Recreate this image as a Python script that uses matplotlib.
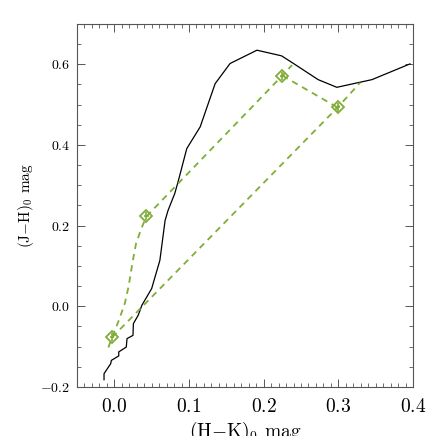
import matplotlib
matplotlib.use("Agg")
import matplotlib.pyplot as plt
from matplotlib.ticker import MultipleLocator

plt.rcParams['font.family'] = ['cmr10', 'DejaVu Serif']
plt.rcParams['axes.formatter.use_mathtext'] = True
plt.rcParams['mathtext.fontset'] = 'cm'

# intrinsic colour locus (black)
locus_hk = [-0.0138, -0.0138, -0.0048, -0.0040, 0.0059, 0.0059, 0.0160, 0.0170,
            0.0250, 0.0255, 0.0320, 0.0370, 0.0500, 0.0610, 0.0680, 0.0720,
            0.0810, 0.0860, 0.0970, 0.1150, 0.1350, 0.1550, 0.1910, 0.2240,
            0.2400, 0.2730, 0.2980, 0.3450, 0.3960]
locus_jh = [-0.182, -0.167, -0.142, -0.134, -0.123, -0.113, -0.101, -0.080,
            -0.072, -0.043, -0.022, 0.003, 0.044, 0.114, 0.213, 0.238,
            0.280, 0.313, 0.391, 0.445, 0.552, 0.602, 0.635, 0.621,
            0.602, 0.562, 0.543, 0.562, 0.601]

# green curve (lower-left branch)
curve_hk = [-0.008, -0.003, 0.006, 0.014, 0.019, 0.024, 0.029, 0.036, 0.043]
curve_jh = [-0.102, -0.077, -0.035, 0.007, 0.048, 0.105, 0.155, 0.192, 0.223]

# reddening lines
red1_hk = [0.043, 0.225, 0.238]
red1_jh = [0.223, 0.572, 0.598]
red2_hk = [-0.003, 0.299, 0.329]
red2_jh = [-0.077, 0.493, 0.554]
link_hk = [0.225, 0.299]
link_jh = [0.572, 0.493]

# marked points
pts_hk = [-0.003, 0.043, 0.225, 0.299]
pts_jh = [-0.077, 0.223, 0.572, 0.493]
pts_hk_err = [0.003, 0.003, 0.003, 0.003]
pts_jh_err = [0.010, 0.010, 0.010, 0.010]

green = '#80ad38'
dash = (0, (3.5, 2.8))

fig = plt.figure(figsize=(4.36, 4.36), dpi=100)
ax = fig.add_axes([0.1766, 0.1124, 0.7706, 0.8326])

ax.plot(locus_hk, locus_jh, color='black', lw=0.9)
for xs, ys in [(curve_hk, curve_jh), (red1_hk, red1_jh),
               (red2_hk, red2_jh), (link_hk, link_jh)]:
    ax.plot(xs, ys, color=green, lw=1.3, linestyle=dash)
ax.errorbar(pts_hk, pts_jh, xerr=pts_hk_err, yerr=pts_jh_err, fmt='D',
            ms=6, mfc='none', mec=green, mew=1.3, ecolor=green,
            elinewidth=1.2, capsize=0)

ax.set_xlim(-0.05, 0.4)
ax.set_ylim(-0.2, 0.7)
ax.xaxis.set_major_locator(MultipleLocator(0.1))
ax.xaxis.set_minor_locator(MultipleLocator(0.01))
ax.yaxis.set_major_locator(MultipleLocator(0.2))
ax.yaxis.set_minor_locator(MultipleLocator(0.05))
ax.tick_params(which='both', direction='in', top=True, right=True,
               color='#555555')
ax.tick_params(which='major', length=6, width=0.7)
ax.tick_params(which='minor', length=3, width=0.6)
ax.tick_params(axis='x', labelsize=14, pad=8)
ax.tick_params(axis='y', labelsize=10, pad=5)
for s in ax.spines.values():
    s.set_color('#555555')
    s.set_linewidth(0.8)

ax.set_xlabel(r'(H$-$K)$_0$ mag', fontsize=14, labelpad=3)
ax.set_ylabel(r'(J$-$H)$_0$ mag', fontsize=11, labelpad=3)

fig.savefig('out.png', dpi=100)
